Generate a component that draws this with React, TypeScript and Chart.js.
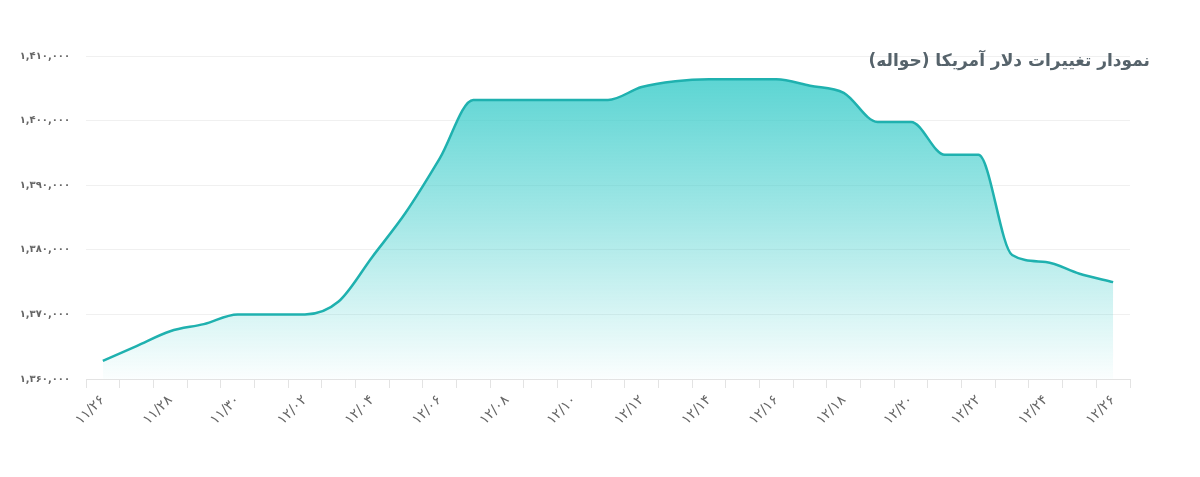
import React, { useEffect, useRef } from "react";
import { Chart, registerables } from "chart.js";

Chart.register(...registerables);

const dates: string[] = [
  "11/26", "11/27", "11/28", "11/29", "11/30",
  "12/01", "12/02", "12/03", "12/04", "12/05", "12/06", "12/07", "12/08", "12/09", "12/10",
  "12/11", "12/12", "12/13", "12/14", "12/15", "12/16", "12/17", "12/18", "12/19", "12/20",
  "12/21", "12/22", "12/23", "12/24", "12/25", "12/26",
];

const usdRates: number[] = [
  1362800, 1365100, 1367400, 1368500, 1370000,
  1370000, 1370000, 1372000, 1378900, 1385800, 1394100, 1403200, 1403200, 1403200, 1403200,
  1403200, 1405200, 1406100, 1406400, 1406400, 1406400, 1405400, 1404300, 1399800, 1399800,
  1394700, 1394700, 1379200, 1378100, 1376300, 1375000,
];

const yMin = 1360000;
const yMax = 1410000;
const yStep = 10000;

const titleText = "نمودار تغییرات دلار آمریکا (حواله)";

const faDigits = "۰۱۲۳۴۵۶۷۸۹";
const toFa = (s: string) => s.replace(/[0-9]/g, (d) => faDigits[Number(d)]);

export default function App() {
  const canvasRef = useRef<HTMLCanvasElement | null>(null);

  useEffect(() => {
    if (!canvasRef.current) return;
    const chart = new Chart(canvasRef.current, {
      type: "line",
      data: {
        labels: dates,
        datasets: [
          {
            data: usdRates,
            borderColor: "#1fb1af",
            borderWidth: 2.5,
            pointRadius: 0,
            cubicInterpolationMode: "monotone",
            fill: "start",
            backgroundColor: (ctx: any) => {
              const { chart } = ctx;
              const area = chart.chartArea;
              if (!area) return "rgba(60,205,203,0.5)";
              const g = chart.ctx.createLinearGradient(0, area.top, 0, area.bottom);
              g.addColorStop(0, "rgba(62,205,203,0.9)");
              g.addColorStop(0.5, "rgba(62,205,203,0.48)");
              g.addColorStop(1, "rgba(62,205,203,0.02)");
              return g;
            },
          },
        ],
      },
      options: {
        animation: false,
        responsive: true,
        maintainAspectRatio: false,
        layout: { padding: { left: 0, right: 70, top: 56, bottom: 0 } },
        plugins: { legend: { display: false }, tooltip: { enabled: false }, title: { display: false } },
        scales: {
          x: {
            offset: true,
            grid: {
              offset: true,
              drawOnChartArea: false,
              drawTicks: true,
              tickLength: 9,
              color: "#e3e3e3",
            },
            border: { display: true, color: "#e3e3e3" },
            ticks: {
              autoSkip: false,
              minRotation: 45,
              maxRotation: 45,
              color: "#666",
              font: { size: 14, family: "DejaVu Sans" },
              padding: 4,
              callback: (_v: any, i: number) => (i % 2 === 0 ? toFa(dates[i]) : ""),
            },
            afterFit: (s: any) => {
              s.height = 98;
            },
          },
          y: {
            min: yMin,
            max: yMax,
            grid: { color: "#f0f0f0", drawTicks: false },
            border: { display: false },
            ticks: {
              stepSize: yStep,
              color: "#666",
              font: { size: 10, family: "DejaVu Sans", weight: "bold" },
              padding: 16,
              callback: (v: any) => toFa(Number(v).toLocaleString("en-US")),
            },
            afterFit: (s: any) => {
              s.width = 86;
            },
          },
        },
      },
    });
    return () => chart.destroy();
  }, []);

  return (
    <div style={{ position: "absolute", left: 0, top: 0, width: 1200, height: 477, background: "#fff" }}>
      <canvas ref={canvasRef} />
      <div
        dir="rtl"
        style={{
          position: "absolute",
          right: 50,
          top: 50,
          fontFamily: "DejaVu Sans, sans-serif",
          fontWeight: "bold",
          fontSize: 17,
          color: "#56636b",
          whiteSpace: "nowrap",
        }}
      >
        {titleText}
      </div>
    </div>
  );
}
